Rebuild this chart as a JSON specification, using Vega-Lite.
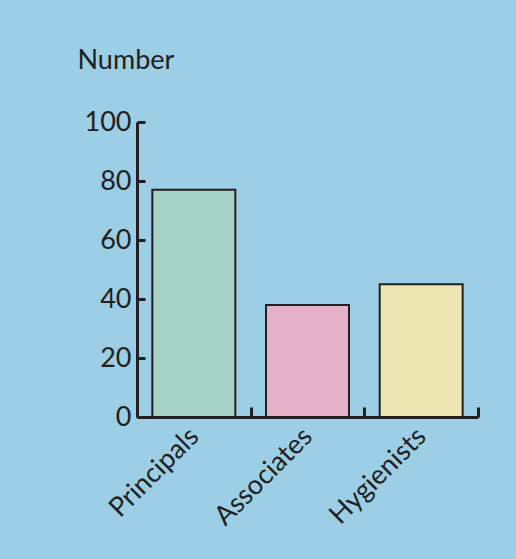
{
  "$schema": "https://vega.github.io/schema/vega-lite/v6.json",
  "width": 341,
  "height": 295,
  "autosize": {"type": "none"},
  "padding": {"left": 137, "top": 122, "right": 38, "bottom": 142},
  "background": "#9CCEE5",
  "data": {
    "values": [
      {"group": "Principals", "count": 77},
      {"group": "Associates", "count": 38},
      {"group": "Hygienists", "count": 45}
    ]
  },
  "mark": {"type": "bar", "stroke": "#231F20", "strokeWidth": 2, "width": {"band": 0.73}},
  "encoding": {
    "x": {
      "field": "group",
      "type": "nominal",
      "sort": null,
      "scale": {"paddingInner": 0, "paddingOuter": 0},
      "axis": {
        "title": null,
        "labelAngle": -45,
        "tickBand": "extent",
        "tickSize": -10,
        "tickWidth": 3,
        "tickColor": "#231F20",
        "domainWidth": 3,
        "domainColor": "#231F20",
        "labelFont": "Lato",
        "labelFontSize": 27,
        "labelColor": "#231F20",
        "labelPadding": 16,
        "labelOffset": -9
      }
    },
    "y": {
      "field": "count",
      "type": "quantitative",
      "scale": {"domain": [0, 100]},
      "axis": {
        "values": [0, 20, 40, 60, 80, 100],
        "title": "Number",
        "titleAngle": 0,
        "titleAlign": "left",
        "titleBaseline": "alphabetic",
        "titleX": -60,
        "titleY": -54,
        "titleFont": "Lato",
        "titleFontSize": 27,
        "titleFontWeight": "normal",
        "titleColor": "#231F20",
        "grid": false,
        "tickSize": -8,
        "tickWidth": 3,
        "tickColor": "#231F20",
        "domainWidth": 3,
        "domainColor": "#231F20",
        "labelFont": "Lato",
        "labelFontSize": 27,
        "labelColor": "#231F20",
        "labelPadding": 14
      }
    },
    "color": {
      "field": "group",
      "type": "nominal",
      "sort": null,
      "scale": {"range": ["#A6D3C5", "#E4B1C9", "#EEE6B2"]},
      "legend": null
    }
  },
  "config": {"view": {"stroke": null}}
}
